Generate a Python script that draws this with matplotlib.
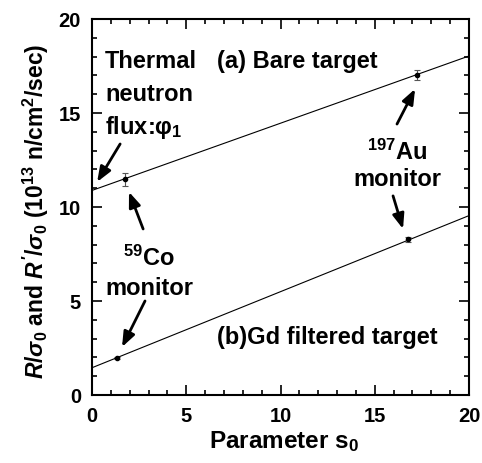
import numpy as np
import matplotlib
matplotlib.use("Agg")
import matplotlib.pyplot as plt

plt.rcParams['font.family'] = ['Liberation Sans', 'DejaVu Sans']
plt.rcParams['font.weight'] = 'bold'
plt.rcParams['mathtext.fontset'] = 'custom'
plt.rcParams['mathtext.rm'] = 'Liberation Sans:bold'
plt.rcParams['mathtext.it'] = 'Liberation Sans:bold:italic'
plt.rcParams['mathtext.bf'] = 'Liberation Sans:bold'

# measured points (Co, Au monitors)
s0_bare = [1.75, 17.26]
val_bare = [11.47, 17.04]
err_bare = [0.35, 0.27]
s0_gd = [1.31, 16.78]
val_gd = [1.98, 8.28]
err_gd = [0.05, 0.12]

# fitted lines, end points at s0 = 0 and 20
fit_x = [0, 20]
fit_bare = [10.88, 18.03]
fit_gd = [1.45, 9.54]

fig = plt.figure(figsize=(4.82, 4.64), dpi=100)
ax = fig.add_axes([0.191, 0.1466, 0.782, 0.8104])

ax.plot(fit_x, fit_bare, color='black', lw=0.8)
ax.plot(fit_x, fit_gd, color='black', lw=0.8)
ax.errorbar(s0_bare, val_bare, yerr=err_bare, fmt='o', color='black', ms=3,
            ecolor='#555555', elinewidth=0.8, capsize=2.5, capthick=0.8)
ax.errorbar(s0_gd, val_gd, yerr=err_gd, fmt='o', color='black', ms=3,
            ecolor='#555555', elinewidth=0.8, capsize=2.5, capthick=0.8)

ax.set_xlim(0, 20)
ax.set_ylim(0, 20)
ax.set_xticks([0, 5, 10, 15, 20])
ax.set_yticks([0, 5, 10, 15, 20])
ax.set_xticks(np.arange(0, 21, 1), minor=True)
ax.set_yticks(np.arange(0, 21, 1), minor=True)
ax.tick_params(which='both', direction='in', top=True, right=True, width=1.2)
ax.tick_params(which='major', length=7, labelsize=14.5)
ax.tick_params(axis='x', which='major', pad=8)
ax.tick_params(axis='y', which='major', pad=8)
ax.tick_params(which='minor', length=3.5)
for lab in ax.get_xticklabels() + ax.get_yticklabels():
    lab.set_fontweight('bold')
for sp in ax.spines.values():
    sp.set_linewidth(1.5)

ax.set_xlabel(r'Parameter s$_0$', fontsize=17.5, fontweight='bold')
ax.set_ylabel(r"$\mathit{R}/\mathit{\sigma}_0$ and $\mathit{R'}/\mathit{\sigma}_0$ (10$^{13}$ n/cm$^2$/sec)",
              fontsize=16.5, fontweight='bold')
ax.xaxis.set_label_coords(0.51, -0.088)
ax.yaxis.set_label_coords(-0.108, 0.49)

fs = 17
ax.text(0.69, 17.77, 'Thermal', fontsize=fs, fontweight='bold', va='center', ha='left')
ax.text(0.69, 16.01, 'neutron', fontsize=fs, fontweight='bold', va='center', ha='left')
ax.text(0.69, 14.26, r'flux:φ$_1$', fontsize=fs, fontweight='bold', va='center', ha='left')
ax.text(6.63, 17.77, '(a) Bare target', fontsize=fs, fontweight='bold', va='center', ha='left')
ax.text(16.18, 12.98, r'$^{197}$Au', fontsize=fs, fontweight='bold', va='center', ha='center')
ax.text(16.18, 11.49, 'monitor', fontsize=fs, fontweight='bold', va='center', ha='center')
ax.text(3.02, 7.34, r'$^{59}$Co', fontsize=fs, fontweight='bold', va='center', ha='center')
ax.text(3.02, 5.69, 'monitor', fontsize=fs, fontweight='bold', va='center', ha='center')
ax.text(6.63, 3.09, '(b)Gd filtered target', fontsize=fs, fontweight='bold', va='center', ha='left')

arrows = [((1.49, 13.35), (0.27, 11.33)),
          ((2.71, 8.83), (1.96, 10.80)),
          ((16.18, 14.41), (17.14, 16.28)),
          ((2.81, 5.0), (1.59, 2.55)),
          ((15.97, 10.59), (16.5, 8.83))]
for tail, tip in arrows:
    ax.annotate('', xy=tip, xytext=tail,
                arrowprops=dict(arrowstyle='-|>,head_length=0.9,head_width=0.35',
                                color='black', lw=2, shrinkA=0, shrinkB=0))

fig.savefig('out.png', dpi=100)
